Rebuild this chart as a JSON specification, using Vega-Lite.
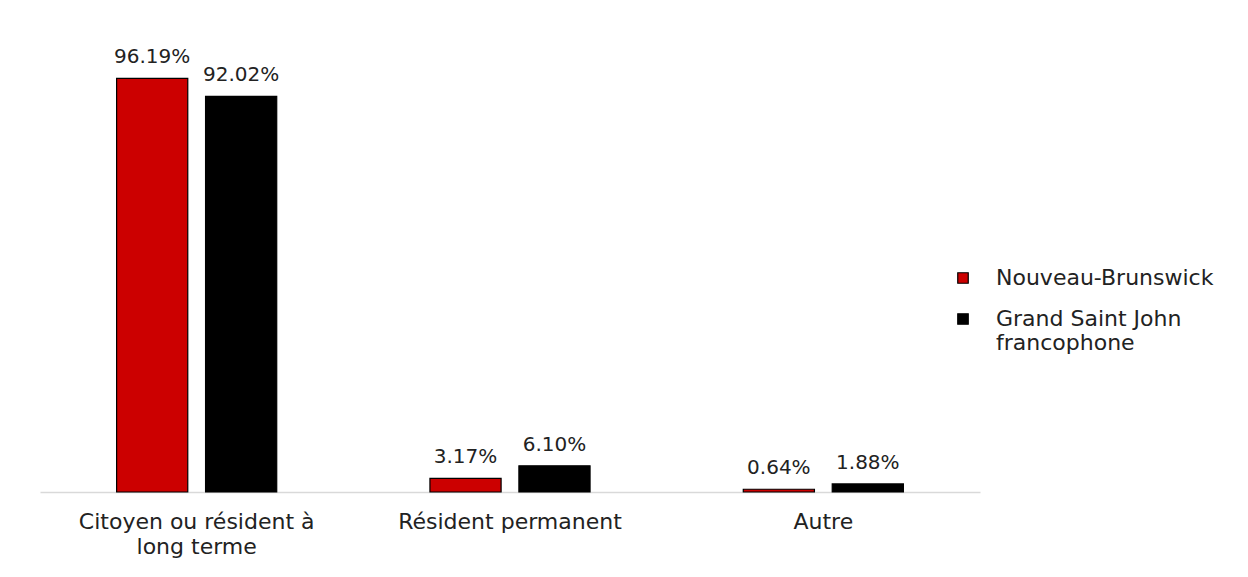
{
  "$schema": "https://vega.github.io/schema/vega-lite/v6.json",
  "autosize": {"type": "none"},
  "width": 940,
  "height": 430,
  "padding": {"left": 40, "top": 62, "right": 268, "bottom": 85},
  "background": "white",
  "config": {
    "view": {"stroke": null},
    "font": "DejaVu Sans"
  },
  "data": {
    "values": [
      {"categorie": "Citoyen ou résident à long terme", "groupe": "Nouveau-Brunswick", "valeur": 96.19},
      {"categorie": "Citoyen ou résident à long terme", "groupe": "Grand Saint John francophone", "valeur": 92.02},
      {"categorie": "Résident permanent", "groupe": "Nouveau-Brunswick", "valeur": 3.17},
      {"categorie": "Résident permanent", "groupe": "Grand Saint John francophone", "valeur": 6.10},
      {"categorie": "Autre", "groupe": "Nouveau-Brunswick", "valeur": 0.64},
      {"categorie": "Autre", "groupe": "Grand Saint John francophone", "valeur": 1.88}
    ]
  },
  "encoding": {
    "x": {
      "field": "categorie",
      "type": "nominal",
      "sort": null,
      "scale": {"paddingInner": 0.489, "paddingOuter": 0.2445},
      "axis": {
        "title": null,
        "labelAngle": 0,
        "labelFontSize": 22,
        "labelColor": "#222222",
        "labelPadding": 19,
        "labelLineHeight": 25,
        "labelLimit": 400,
        "ticks": false,
        "domainColor": "#d9d9d9",
        "domainWidth": 1.5,
        "labelExpr": "datum.label == 'Citoyen ou résident à long terme' ? ['Citoyen ou résident à', 'long terme'] : datum.label"
      }
    },
    "xOffset": {
      "field": "groupe",
      "type": "nominal",
      "sort": ["Nouveau-Brunswick", "Grand Saint John francophone"],
      "scale": {"paddingInner": 0.2, "paddingOuter": 0}
    },
    "y": {
      "field": "valeur",
      "type": "quantitative",
      "scale": {"domain": [0, 100]},
      "axis": null
    }
  },
  "layer": [
    {
      "mark": {"type": "bar", "stroke": "black", "strokeWidth": 1.2},
      "encoding": {
        "color": {
          "field": "groupe",
          "type": "nominal",
          "sort": ["Nouveau-Brunswick", "Grand Saint John francophone"],
          "scale": {"domain": ["Nouveau-Brunswick", "Grand Saint John francophone"], "range": ["#cc0000", "#000000"]},
          "legend": {
            "title": null,
            "orient": "none",
            "legendX": 912,
            "legendY": 205,
            "symbolType": "square",
            "symbolSize": 110,
            "symbolStrokeColor": "black",
            "symbolStrokeWidth": 1.2,
            "labelFontSize": 22,
            "labelColor": "#222222",
            "labelOffset": 22,
            "labelLimit": 300,
            "labelLineHeight": 24,
            "rowPadding": 19,
            "labelExpr": "datum.label == 'Grand Saint John francophone' ? ['Grand Saint John', 'francophone'] : datum.label"
          }
        }
      }
    },
    {
      "mark": {
        "type": "text",
        "baseline": "alphabetic",
        "dy": -15,
        "fontSize": 20,
        "color": "#222222",
        "text": {"expr": "format(datum.valeur, '.2f') + '%'"}
      },
      "encoding": {}
    }
  ]
}
